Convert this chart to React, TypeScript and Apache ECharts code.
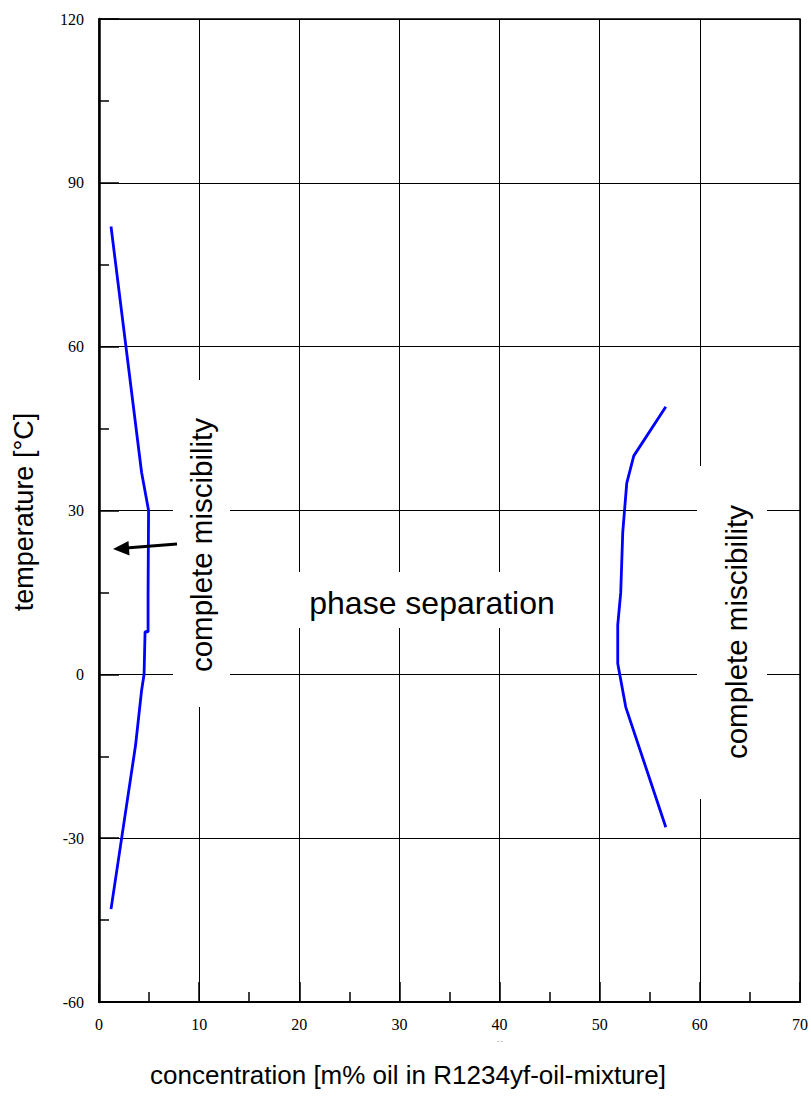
import React, { useEffect, useRef } from "react";
import * as echarts from "echarts";

// Axis ranges (concentration in m% oil, temperature in °C)
const xRange = [0, 70];
const xStep = 10;
const yRange = [-60, 120];
const yStep = 30;

// Left miscibility boundary
const leftX = [1.2, 4.25, 4.95, 4.9, 4.9, 4.6, 4.5, 4.25, 3.65, 1.2];
const leftY = [82, 37, 30, 15, 7.8, 7.8, 0, -3, -13, -43];

// Right miscibility boundary
const rightX = [56.6, 53.4, 52.7, 52.3, 52.1, 51.8, 51.8, 52.6, 56.6];
const rightY = [49, 40, 35, 26, 15, 9, 2, -6, -28];

const labels = {
  xTitle: "concentration [m% oil in R1234yf-oil-mixture]",
  yTitle: "temperature [°C]",
  misc: "complete miscibility",
  phase: "phase separation",
};

const SANS = "'Liberation Sans', Arial, Helvetica, sans-serif";
const SERIF = "'Liberation Serif', 'Times New Roman', serif";

const zip = (xs: number[], ys: number[]) => xs.map((x, i) => [x, ys[i]]);

export default function App() {
  const ref = useRef<HTMLDivElement>(null);
  useEffect(() => {
    if (!ref.current) return;
    const chart = echarts.init(ref.current, null, { renderer: "svg" });
    const lineSeries = (name: string, data: number[][]) => ({
      name,
      type: "line",
      data,
      showSymbol: false,
      symbol: "none",
      lineStyle: { color: "#0000ff", width: 2.8 },
      z: 5,
    });
    const axisCommon = {
      axisTick: { show: true, inside: true, length: 20, lineStyle: { color: "#000", width: 1.5 } },
      minorTick: { show: true, splitNumber: 2, length: 10, lineStyle: { color: "#000", width: 1.5 } },
      splitLine: { show: true, lineStyle: { color: "#000", width: 1 } },
    };
    chart.setOption({
      animation: false,
      backgroundColor: "#fff",
      grid: {
        left: 99,
        top: 19,
        right: 11,
        bottom: 96,
        show: true,
        borderColor: "#000",
        borderWidth: 1.5,
        backgroundColor: "transparent",
      },
      xAxis: {
        type: "value",
        min: xRange[0],
        max: xRange[1],
        interval: xStep,
        ...axisCommon,
        axisLine: { show: true, onZero: false, lineStyle: { color: "#000", width: 2 } },
        axisLabel: { color: "#000", fontSize: 16, fontFamily: SERIF, margin: 14 },
      },
      yAxis: {
        type: "value",
        min: yRange[0],
        max: yRange[1],
        interval: yStep,
        ...axisCommon,
        axisLine: { show: true, onZero: false, lineStyle: { color: "#000", width: 2.5 } },
        axisLabel: { color: "#000", fontSize: 16, fontFamily: SERIF, margin: 15 },
      },
      series: [lineSeries("left", zip(leftX, leftY)), lineSeries("right", zip(rightX, rightY))],
      graphic: [
        { type: "rect", shape: { x: 173, y: 380, width: 57, height: 327 }, style: { fill: "#fff" }, z: 1 },
        { type: "rect", shape: { x: 697, y: 466, width: 70, height: 333 }, style: { fill: "#fff" }, z: 1 },
        { type: "rect", shape: { x: 290, y: 572, width: 275, height: 56 }, style: { fill: "#fff" }, z: 1 },
        {
          type: "text", x: 201, y: 545, rotation: Math.PI / 2, z: 10,
          style: { text: labels.misc, fontSize: 29.5, fontFamily: SANS, fill: "#000", align: "center", verticalAlign: "middle" },
        },
        {
          type: "text", x: 736, y: 632, rotation: Math.PI / 2, z: 10,
          style: { text: labels.misc, fontSize: 29.5, fontFamily: SANS, fill: "#000", align: "center", verticalAlign: "middle" },
        },
        {
          type: "text", x: 432, y: 603, z: 10,
          style: { text: labels.phase, fontSize: 32, fontFamily: SANS, fill: "#000", align: "center", verticalAlign: "middle" },
        },
        {
          type: "text", x: 24, y: 512, rotation: Math.PI / 2, z: 10,
          style: { text: labels.yTitle, fontSize: 27, fontFamily: SANS, fill: "#000", align: "center", verticalAlign: "middle" },
        },
        {
          type: "text", x: 408, y: 1075, z: 10,
          style: { text: labels.xTitle, fontSize: 26, fontFamily: SANS, fill: "#000", align: "center", verticalAlign: "middle" },
        },
        {
          type: "line", z: 20,
          shape: { x1: 177, y1: 544, x2: 126, y2: 548 },
          style: { stroke: "#000", lineWidth: 3 },
        },
        {
          type: "polygon", z: 20,
          shape: { points: [[113, 549], [129.5, 555.5], [128.5, 541]] },
          style: { fill: "#000" },
        },
        {
          type: "text", x: 500, y: 1041, z: 10,
          style: { text: "- -", fontSize: 6, fontFamily: SERIF, fill: "#555", align: "center", verticalAlign: "middle" },
        },
      ],
    });
    return () => chart.dispose();
  }, []);
  return <div ref={ref} style={{ position: "absolute", left: 0, top: 0, width: 811, height: 1098 }} />;
}
